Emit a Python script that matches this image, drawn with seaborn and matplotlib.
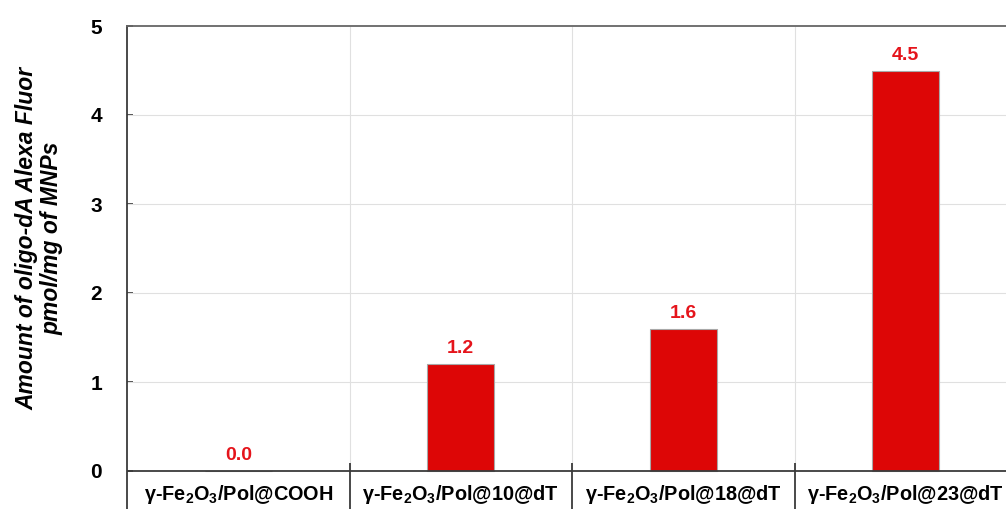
import numpy as np
import pandas as pd
import matplotlib
matplotlib.use("Agg")
import matplotlib.pyplot as plt
import seaborn as sns

# ---------------------------------------------------------------
# data
# ---------------------------------------------------------------
samples = [
    "γ-Fe$_2$O$_3$/Pol@COOH",
    "γ-Fe$_2$O$_3$/Pol@10@dT",
    "γ-Fe$_2$O$_3$/Pol@18@dT",
    "γ-Fe$_2$O$_3$/Pol@23@dT",
]
amount = [0.0, 1.2, 1.6, 4.5]
y_ticks = [0, 1, 2, 3, 4, 5]

df = pd.DataFrame({"sample": samples, "amount": amount})

sns.set_theme(style="white")
plt.rcParams["font.family"] = ["Liberation Sans", "DejaVu Sans"]
plt.rcParams["mathtext.fontset"] = "custom"
plt.rcParams["mathtext.bf"] = "Liberation Sans:bold"
plt.rcParams["mathtext.rm"] = "Liberation Sans:bold"
plt.rcParams["mathtext.default"] = "bf"
plt.rcParams["text.color"] = "black"
plt.rcParams["ytick.labelcolor"] = "black"

BAR = "#DD0606"
LABEL_RED = "#E5141B"
GRID = "#E0E0E0"
DARK = "#3A3A3A"

fig = plt.figure(figsize=(10.06, 5.09), dpi=100)
# axes runs past the right edge of the picture, as in the reference
ax = fig.add_axes([127 / 1006, 0.0, 890 / 1006, 1 - 26 / 509])

sns.barplot(data=df, x="sample", y="amount", color=BAR, width=0.30,
            edgecolor="#A8A8A8", linewidth=0.8, saturation=1, ax=ax, zorder=3)

ax.set_xlim(-0.5, len(samples) - 0.5)
ax.set_ylim(-38 / 89, 5)

# grid
for v in y_ticks[1:-1]:
    ax.axhline(v, color=GRID, lw=0.8, zorder=1)
for i in range(len(samples) - 1):
    ax.vlines(i + 0.5, 0, 5, color=GRID, lw=0.8, zorder=1)
    ax.vlines(i + 0.5, -0.45, 0.09, color=DARK, lw=1.3, zorder=4, clip_on=False)
ax.axhline(0, color=DARK, lw=1.3, zorder=4)

# spines
for s in ["bottom", "right"]:
    ax.spines[s].set_visible(False)
ax.spines["left"].set_color(DARK)
ax.spines["left"].set_linewidth(1.3)
ax.spines["top"].set_color("#666666")
ax.spines["top"].set_linewidth(1.3)

# ticks
ax.set_yticks(y_ticks)
ax.set_yticklabels([str(t) for t in y_ticks], fontsize=15, fontweight="bold")
ax.tick_params(axis="y", direction="in", length=4, color=DARK, pad=18, left=True)
ax.set_xticks([])
ax.set_xlabel("")
for i, name in enumerate(samples):
    ax.text(i, -0.325, name, ha="center", va="baseline", fontsize=14.3,
            fontweight="bold", color="black")

# value labels
for i, v in enumerate(amount):
    ax.annotate(f"{v:.1f}", (i, v), xytext=(0, 5), textcoords="offset points",
                ha="center", va="bottom", fontsize=14, fontweight="bold",
                color=LABEL_RED, zorder=5)

ax.set_ylabel("Amount of oligo-dA Alexa Fluor\npmol/mg of MNPs",
              fontsize=16.5, fontweight="bold", style="italic", linespacing=1.15,
              color="black")
ax.yaxis.set_label_coords(-0.071, 0.56)

fig.savefig("out.png", dpi=100)
